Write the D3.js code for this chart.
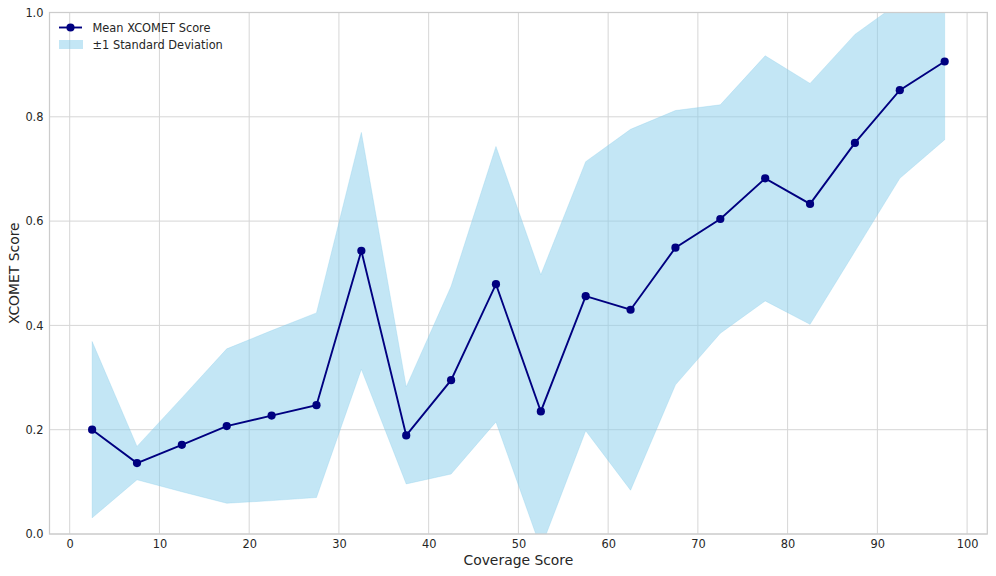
<!DOCTYPE html>
<html>
<head>
<meta charset="utf-8">
<script src="https://cdn.jsdelivr.net/npm/d3@7"></script>
<style>
  html, body { margin: 0; padding: 0; background: #fff; }
  svg { display: block; font-family: "DejaVu Sans", sans-serif; }
</style>
</head>
<body>
<svg id="chart" width="996" height="576"></svg>
<script>
const coverage = [2.5, 7.5, 12.5, 17.5, 22.5, 27.5, 32.5, 37.5, 42.5, 47.5, 52.5, 57.5, 62.5, 67.5, 72.5, 77.5, 82.5, 87.5, 92.5, 97.5];
const meanScore = [0.200, 0.136, 0.171, 0.207, 0.227, 0.247, 0.543, 0.189, 0.295, 0.479, 0.235, 0.456, 0.430, 0.549, 0.604, 0.682, 0.633, 0.750, 0.851, 0.906];
const stdScore = [0.169, 0.032, 0.090, 0.148, 0.163, 0.177, 0.227, 0.093, 0.180, 0.264, 0.262, 0.258, 0.346, 0.263, 0.219, 0.235, 0.231, 0.208, 0.169, 0.150];
const xTicks = [0, 10, 20, 30, 40, 50, 60, 70, 80, 90, 100];
const yTicks = [0.0, 0.2, 0.4, 0.6, 0.8, 1.0];
const xLabel = "Coverage Score";
const yLabel = "XCOMET Score";
const legendLabels = ["Mean XCOMET Score", "±1 Standard Deviation"];

(function () {
const data = coverage.map((c, i) => ({ x: c, m: meanScore[i], s: stdScore[i] }));

const svg = d3.select("#chart");
const pL = 49.5, pR = 987.3, pT = 12.5, pB = 534;
const x = d3.scaleLinear().domain([-2.25, 102.25]).range([pL, pR]);
const y = d3.scaleLinear().domain([0, 1]).range([pB, pT]);

const gridColor = "#d6d6d6";
const textColor = "#262626";

svg.append("defs").append("clipPath").attr("id", "clip")
  .append("rect").attr("x", pL).attr("y", pT).attr("width", pR - pL).attr("height", pB - pT);

// grid
const grid = svg.append("g");
grid.selectAll(".vg").data(xTicks).join("line")
  .attr("x1", d => x(d)).attr("x2", d => x(d)).attr("y1", pT).attr("y2", pB)
  .attr("stroke", gridColor).attr("stroke-width", 1);
grid.selectAll(".hg").data(yTicks).join("line")
  .attr("x1", pL).attr("x2", pR).attr("y1", d => y(d)).attr("y2", d => y(d))
  .attr("stroke", gridColor).attr("stroke-width", 1);

const plot = svg.append("g").attr("clip-path", "url(#clip)");

// band
const area = d3.area().x(d => x(d.x)).y0(d => y(d.m - d.s)).y1(d => y(d.m + d.s));
plot.append("path").datum(data).attr("d", area)
  .attr("fill", "skyblue").attr("fill-opacity", 0.5)
  .attr("stroke", "skyblue").attr("stroke-opacity", 0.3).attr("stroke-width", 1);

// line
const line = d3.line().x(d => x(d.x)).y(d => y(d.m));
plot.append("path").datum(data).attr("d", line)
  .attr("fill", "none").attr("stroke", "navy").attr("stroke-width", 1.9);
plot.selectAll(".pt").data(data).join("circle")
  .attr("cx", d => x(d.x)).attr("cy", d => y(d.m)).attr("r", 4.1).attr("fill", "navy");

// spines
svg.append("rect").attr("x", pL).attr("y", pT).attr("width", pR - pL).attr("height", pB - pT)
  .attr("fill", "none").attr("stroke", "#cccccc").attr("stroke-width", 1.25);

// axes
const xAxis = svg.append("g").attr("transform", `translate(0,${pB})`)
  .call(d3.axisBottom(x).tickValues(xTicks).tickFormat(d3.format("d")).tickSize(0).tickPadding(6));
const yAxis = svg.append("g").attr("transform", `translate(${pL},0)`)
  .call(d3.axisLeft(y).tickValues(yTicks).tickFormat(d3.format(".1f")).tickSize(0).tickPadding(6));
[xAxis, yAxis].forEach(a => {
  a.select(".domain").remove();
  a.selectAll("text").attr("fill", textColor).style("font-size", "11.4px").style("font-family", "DejaVu Sans");
});

// axis labels
svg.append("text").attr("x", (pL + pR) / 2).attr("y", 564.5).attr("text-anchor", "middle")
  .attr("fill", textColor).style("font-size", "13.9px").text(xLabel);
svg.append("text").attr("transform", `translate(19,${(pT + pB) / 2}) rotate(-90)`).attr("text-anchor", "middle")
  .attr("fill", textColor).style("font-size", "13.9px").text(yLabel);

// legend
const lg = svg.append("g");
lg.append("line").attr("x1", 59).attr("x2", 82).attr("y1", 27.5).attr("y2", 27.5)
  .attr("stroke", "navy").attr("stroke-width", 1.9);
lg.append("circle").attr("cx", 70.5).attr("cy", 27.5).attr("r", 4.1).attr("fill", "navy");
lg.append("rect").attr("x", 59).attr("y", 40).attr("width", 24).attr("height", 9)
  .attr("fill", "skyblue").attr("fill-opacity", 0.5);
lg.selectAll(".lt").data(legendLabels).join("text")
  .attr("x", 92.5).attr("y", (d, i) => 31.5 + i * 17.5)
  .attr("fill", textColor).style("font-size", "11.4px").text(d => d);
})();
</script>
</body>
</html>
